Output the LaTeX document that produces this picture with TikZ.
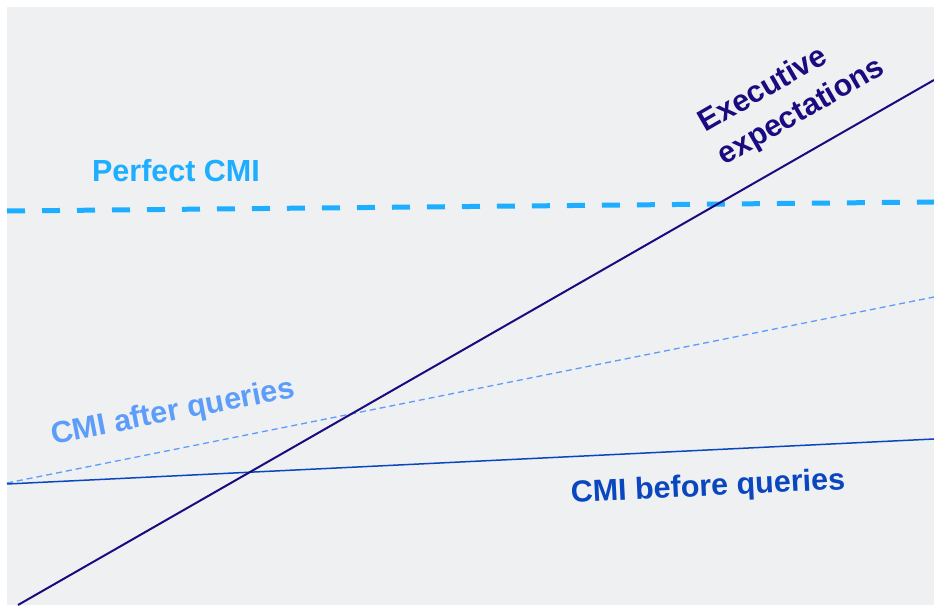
\documentclass[tikz,border=0pt]{standalone}
\usepackage{fontspec}
\setmainfont{Liberation Sans}
\usepackage{tikz}
\usetikzlibrary{positioning}
\definecolor{mbg}{HTML}{EFF0F2}
\definecolor{mexec}{HTML}{1A0B80}
\definecolor{mperfect}{HTML}{1EAEFF}
\definecolor{mafter}{HTML}{5C9DFA}
\definecolor{mbefore}{HTML}{0A47BF}
\tikzset{lbl/.style = {font=\fontsize{30.5}{38}\selectfont\bfseries, inner sep = 0}}

\begin{document}
\begin{tikzpicture}[x=1pt, y=1pt]
      \useasboundingbox (0, 0) rectangle (934, 605);
      \fill [mbg] (7, 0) rectangle (934, 598);

      \draw [mperfect, line width=5, dash pattern=on 18 off 17] (7, 394) -- (934, 403);
      \draw [mafter, line width=1.3, dash pattern=on 6 off 4] (7, 122) -- (934, 308);
      \draw [mbefore, line width=1.5] (7, 121) -- (934, 166);
      \draw [mexec, line width=2] (18, 0) -- (934, 525);

      \node [lbl, mperfect] (perfect) at (176, 434) {Perfect CMI};
      \node [lbl, mafter, rotate=11] (after) at (173, 192) {CMI after queries};
      \node [lbl, mbefore, rotate=2.8] (before) at (708, 117) {CMI before queries};
      \node [lbl, mexec, rotate=30, align=left] (exec) at (792, 509) {Executive\\expectations};
    \end{tikzpicture}
\end{document}
